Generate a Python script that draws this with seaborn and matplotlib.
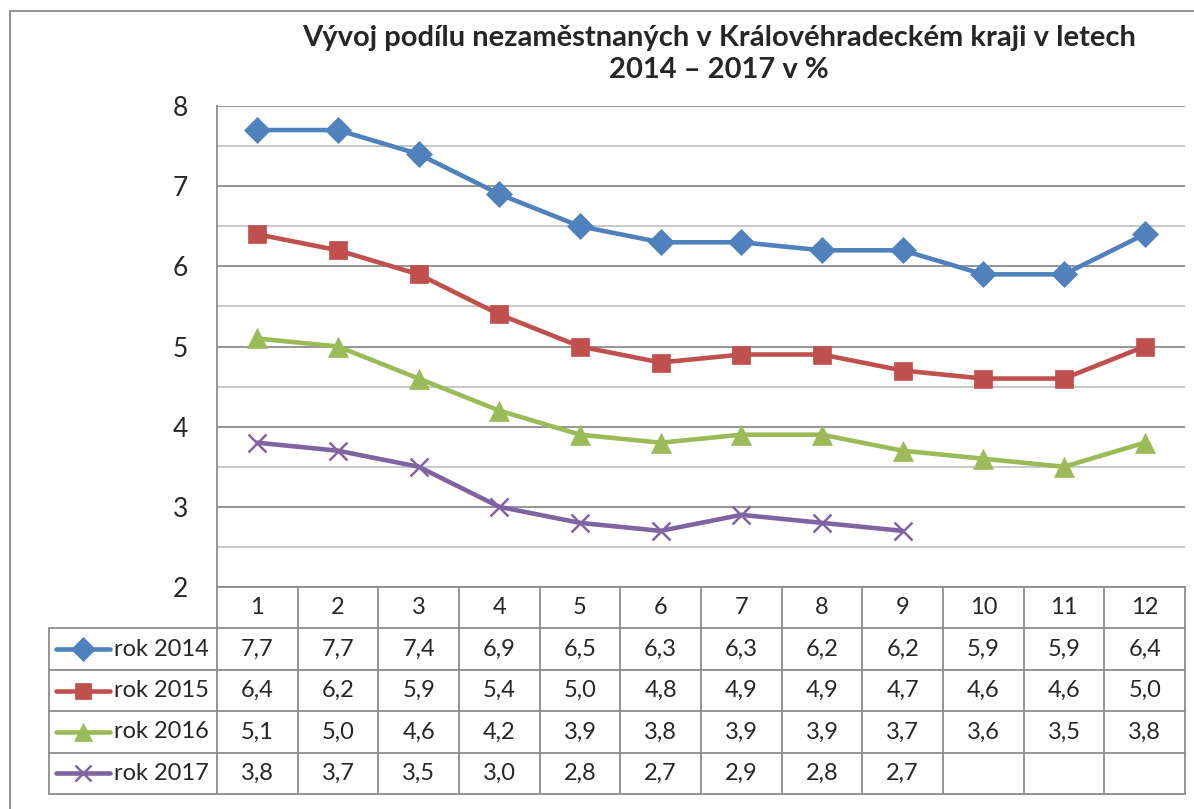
import matplotlib
matplotlib.use("Agg")
import matplotlib.pyplot as plt
import seaborn as sns
import pandas as pd
import numpy as np

# data
mesice = list(range(1, 13))
rok_2014 = [7.7, 7.7, 7.4, 6.9, 6.5, 6.3, 6.3, 6.2, 6.2, 5.9, 5.9, 6.4]
rok_2015 = [6.4, 6.2, 5.9, 5.4, 5.0, 4.8, 4.9, 4.9, 4.7, 4.6, 4.6, 5.0]
rok_2016 = [5.1, 5.0, 4.6, 4.2, 3.9, 3.8, 3.9, 3.9, 3.7, 3.6, 3.5, 3.8]
rok_2017 = [3.8, 3.7, 3.5, 3.0, 2.8, 2.7, 2.9, 2.8, 2.7, None, None, None]
serie = ["rok 2014", "rok 2015", "rok 2016", "rok 2017"]
barvy = ["#4F81BD", "#C0504D", "#9BBB59", "#8064A2"]
znacky = ["D", "s", "^", "x"]
velikosti = [13, 13, 14, 13]

hodnoty = [rok_2014, rok_2015, rok_2016, rok_2017]
df = pd.DataFrame({
    "mesic": mesice * 4,
    "podil": [v for h in hodnoty for v in h],
    "rok": [s for s in serie for _ in mesice],
})
df["podil"] = df["podil"].astype(float)

sns.set_style("white")
plt.rcParams["font.family"] = ["Lato", "DejaVu Sans"]

W, H = 1194, 809
fig = plt.figure(figsize=(W / 100, H / 100), dpi=100)

# outer chart border (left and top only visible)
fig.add_artist(plt.Line2D([10 / W, 10 / W], [0, 1 - 11 / H], color="#8a8a8a", lw=1.3))
fig.add_artist(plt.Line2D([10 / W, 1], [1 - 11 / H, 1 - 11 / H], color="#8a8a8a", lw=1.3))

x0, x1, ytop, ybot = 217, 1185, 106, 587
ax = fig.add_axes([x0 / W, 1 - ybot / H, (x1 - x0) / W, (ybot - ytop) / H])

for s, c, m, ms in zip(serie, barvy, znacky, velikosti):
    d = df[df["rok"] == s].dropna()
    sns.lineplot(data=d, x="mesic", y="podil", ax=ax, color=c, lw=3.3,
                 marker=m, markersize=ms, markeredgecolor=c,
                 markeredgewidth=1.8 if m == "x" else 0.5, legend=False)

ax.set_xlim(0.5, 12.5)
ax.set_ylim(2, 8)
ax.set_yticks(range(2, 9))
ax.set_yticks(np.arange(2.5, 8, 1), minor=True)
ax.grid(axis="y", which="major", color="#8c8c8c", lw=1.3)
ax.grid(axis="y", which="minor", color="#c4c4c4", lw=1.3)
ax.set_axisbelow(True)
ax.set_xticks([])
ax.set_xlabel("")
ax.set_ylabel("")
for sp in ["top", "right", "bottom"]:
    ax.spines[sp].set_visible(False)
ax.spines["left"].set_color("#8c8c8c")
ax.spines["left"].set_linewidth(1.3)
ax.tick_params(axis="y", which="both", length=0, labelsize=19, pad=21)

# data table under the plot
tx0, tbot = 49, 794
colw = (x1 - x0) / 12
left = 0.5 - (x0 - tx0) / colw
tab = fig.add_axes([tx0 / W, 1 - tbot / H, (x1 - tx0) / W, (tbot - ybot) / H])
tab.set_xlim(left, 12.5)
tab.set_ylim(5, 0)
tab.axis("off")
gc, glw = "#8c8c8c", 1.3
tab.plot([0.5, 12.5], [0, 0], color=gc, lw=glw, clip_on=False)
for r in range(1, 6):
    tab.plot([left, 12.5], [r, r], color=gc, lw=glw, clip_on=False)
for k in range(13):
    tab.plot([0.5 + k, 0.5 + k], [0, 5], color=gc, lw=glw, clip_on=False)
tab.plot([left, left], [1, 5], color=gc, lw=glw, clip_on=False)

fs = 17
for m in mesice:
    tab.text(m, 0.5, str(m), ha="center", va="center", fontsize=fs)

def px(p):
    return left + (p - tx0) / colw

for i, (s, h, c, mk, ms) in enumerate(zip(serie, hodnoty, barvy, znacky, velikosti)):
    r = i + 1.5
    tab.plot([px(56), px(110)], [r, r], color=c, lw=3.3, solid_capstyle="round", clip_on=False)
    tab.plot([px(83)], [r], marker=mk, color=c, markersize=ms - 1, markeredgecolor=c,
             markeredgewidth=1.8 if mk == "x" else 0.5, clip_on=False)
    tab.text(px(114), r, s, ha="left", va="center", fontsize=fs)
    for m, v in zip(mesice, h):
        if v is not None:
            tab.text(m, r, f"{v:.1f}".replace(".", ","), ha="center", va="center", fontsize=fs)

fig.text(719 / W, 1 - 54 / H,
         "Vývoj podílu nezaměstnaných v Královéhradeckém kraji v letech\n2014 – 2017 v %",
         ha="center", va="center", fontsize=21, fontweight="bold", linespacing=1.25)

fig.savefig("out.png", dpi=100)
